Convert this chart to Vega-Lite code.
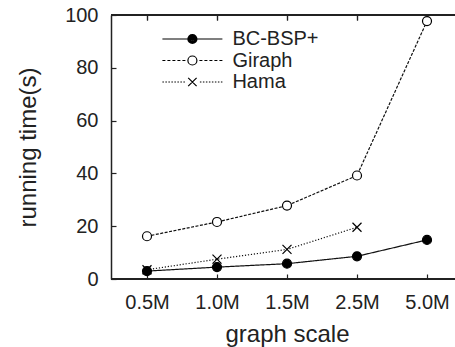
{
  "$schema": "https://vega.github.io/schema/vega-lite/v6.json",
  "autosize": "none",
  "width": 344,
  "height": 264,
  "padding": {"left": 111, "top": 15, "right": 0, "bottom": 68},
  "background": "white",
  "config": {
    "view": {"stroke": null},
    "axis": {
      "labelFont": "Liberation Sans", "labelFontSize": 20, "labelColor": "#222",
      "titleFont": "Liberation Sans", "titleFontSize": 24, "titleFontWeight": "normal", "titleColor": "#222",
      "domainColor": "#222", "domainWidth": 1.5, "tickColor": "#222", "tickWidth": 1.2, "grid": false
    },
    "axisBottom": {"labelAngle": 0, "tickSize": -5, "labelPadding": 18, "titlePadding": 10, "domain": false},
    "axisTop": {"labelAngle": 0, "tickSize": -5, "labels": false, "titleOpacity": 0, "domain": false},
    "axisLeft": {"tickSize": -5, "labelPadding": 18, "titlePadding": 24}
  },
  "data": {"values": [
    {"scale": "0.5M", "series": "BC-BSP+", "time": 3.0},
    {"scale": "1.0M", "series": "BC-BSP+", "time": 4.5},
    {"scale": "1.5M", "series": "BC-BSP+", "time": 5.8},
    {"scale": "2.5M", "series": "BC-BSP+", "time": 8.6},
    {"scale": "5.0M", "series": "BC-BSP+", "time": 14.8},
    {"scale": "0.5M", "series": "Giraph", "time": 16.2},
    {"scale": "1.0M", "series": "Giraph", "time": 21.6},
    {"scale": "1.5M", "series": "Giraph", "time": 27.8},
    {"scale": "2.5M", "series": "Giraph", "time": 39.2},
    {"scale": "5.0M", "series": "Giraph", "time": 97.7},
    {"scale": "0.5M", "series": "Hama", "time": 3.5},
    {"scale": "1.0M", "series": "Hama", "time": 7.5},
    {"scale": "1.5M", "series": "Hama", "time": 11.2},
    {"scale": "2.5M", "series": "Hama", "time": 19.6}
  ]},
  "layer": [
    {
      "mark": {"type": "rule", "color": "#222", "strokeWidth": 1.5},
      "encoding": {"y": {"datum": 100, "type": "quantitative"}}
    },
    {
      "mark": {"type": "rule", "color": "#222", "strokeWidth": 1.5},
      "encoding": {"y": {"datum": 0, "type": "quantitative"}}
    },
    {
      "mark": {"type": "line", "color": "#111", "strokeWidth": 1.2},
      "encoding": {
        "x": {"field": "scale", "type": "ordinal", "sort": ["0.5M", "1.0M", "1.5M", "2.5M", "5.0M"], "title": "graph scale",
              "scale": {"type": "point", "range": [36, 316], "padding": 0},
              "axis": {"orient": "bottom"}},
        "y": {"field": "time", "type": "quantitative", "scale": {"domain": [0, 100]}, "title": "running time(s)",
              "axis": {"values": [0, 20, 40, 60, 80, 100]}},
        "strokeDash": {"field": "series", "type": "nominal",
              "scale": {"domain": ["BC-BSP+", "Giraph", "Hama"], "range": [[1, 0], [3, 1.5], [1.2, 1.8]]}, "legend": null}
      }
    },
    {
      "mark": {"type": "point", "stroke": "#000", "strokeWidth": 1.2, "opacity": 1},
      "encoding": {
        "x": {"field": "scale", "type": "ordinal", "sort": ["0.5M", "1.0M", "1.5M", "2.5M", "5.0M"]},
        "y": {"field": "time", "type": "quantitative"},
        "shape": {"field": "series", "type": "nominal",
              "scale": {"domain": ["BC-BSP+", "Giraph", "Hama"], "range": ["circle", "circle", "M-1,-1L1,1M-1,1L1,-1"]}, "legend": null},
        "fill": {"field": "series", "type": "nominal",
              "scale": {"domain": ["BC-BSP+", "Giraph", "Hama"], "range": ["#000", "#fff", "transparent"]}, "legend": null},
        "size": {"value": 81}
      }
    },
    {
      "mark": {"type": "point", "opacity": 0, "stroke": "#000", "strokeWidth": 1.2},
      "encoding": {
        "x": {"field": "scale", "type": "ordinal", "sort": ["0.5M", "1.0M", "1.5M", "2.5M", "5.0M"],
              "axis": {"orient": "top", "title": null}},
        "y": {"field": "time", "type": "quantitative"},
        "shape": {"field": "series", "type": "nominal", "title": null,
              "scale": {"domain": ["BC-BSP+", "Giraph", "Hama"], "range": [
                "M-5,0L5,0M-0.75,0A0.75,0.75,0,1,0,0.75,0A0.75,0.75,0,1,0,-0.75,0ZM-0.55,0A0.55,0.55,0,1,0,0.55,0A0.55,0.55,0,1,0,-0.55,0ZM-0.35,0A0.35,0.35,0,1,0,0.35,0A0.35,0.35,0,1,0,-0.35,0ZM-0.15,0A0.15,0.15,0,1,0,0.15,0A0.15,0.15,0,1,0,-0.15,0Z",
                "M-5,0L-4.5,0M-4.1667,0L-3.6667,0M-3.3333,0L-2.8333,0M-2.5,0L-2,0M-1.6667,0L-1.1667,0M-0.75,0A0.75,0.75,0,1,0,0.75,0A0.75,0.75,0,1,0,-0.75,0ZM1.1667,0L1.6667,0M2,0L2.5,0M2.8333,0L3.3333,0M3.6667,0L4.1667,0M4.5,0L5,0",
                "M-5,0L-4.75,0M-4.5,0L-4.25,0M-4,0L-3.75,0M-3.5,0L-3.25,0M-3,0L-2.75,0M-2.5,0L-2.25,0M-2,0L-1.75,0M-1.5,0L-1.25,0M-0.7,-0.7L0.7,0.7M-0.7,0.7L0.7,-0.7M1.25,0L1.5,0M1.75,0L2,0M2.25,0L2.5,0M2.75,0L3,0M3.25,0L3.5,0M3.75,0L4,0M4.25,0L4.5,0M4.75,0L5,0"
              ]},
              "legend": {
                "title": null, "orient": "none", "legendX": 71.4, "legendY": 14, "padding": 0,
                "symbolSize": 144, "labelOffset": 30, "rowPadding": 1.5,
                "labelFont": "Liberation Sans", "labelFontSize": 20, "labelColor": "#222",
                "symbolOpacity": 1, "symbolStrokeWidth": 1.2, "symbolStrokeColor": "#000"
              }}
      }
    }
  ],
  "resolve": {"scale": {"shape": "independent", "fill": "independent"}}
}
